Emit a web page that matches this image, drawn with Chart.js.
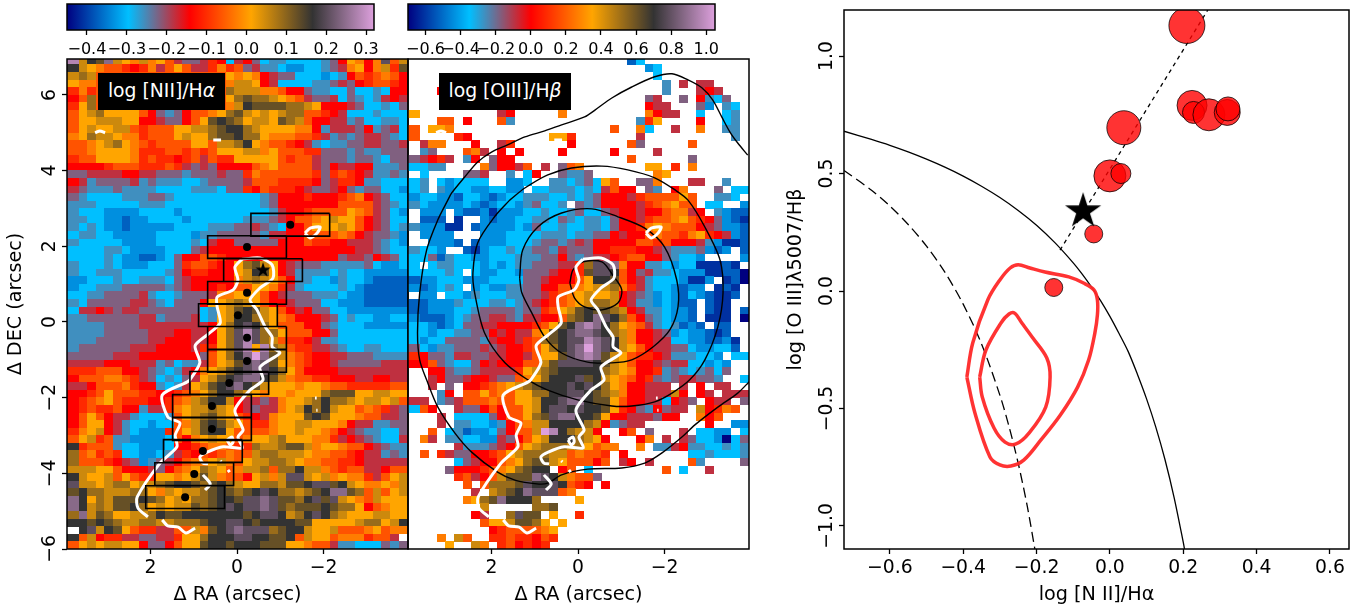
<!DOCTYPE html>
<html><head><meta charset="utf-8">
<script src="https://cdn.jsdelivr.net/npm/chart.js@4"></script>
<style>
html,body{margin:0;padding:0;background:#fff;width:1359px;height:607px;overflow:hidden;font-family:"DejaVu Sans"}
canvas{position:absolute}
.lab{position:absolute;background:#000;color:#fff;font:18.8px "DejaVu Sans";height:37px;line-height:35px;top:73px;white-space:nowrap;text-align:center}
</style></head><body>
<canvas id="cb1"></canvas><canvas id="cb2"></canvas>
<canvas id="p1"></canvas><canvas id="p2"></canvas><canvas id="p3"></canvas>
<div class="lab" style="left:98px;width:127px">log [NII]/H<i>α</i></div>
<div class="lab" style="left:439px;width:132px">log [OIII]/H<i>β</i></div>
<script>
// ---- heat-map cells: one letter per cell, a=lowest ... u=highest position on the colour bar, '.'=no data
const niiRows = [
"tnqpsnmlnlmkhgghjiehigeffeeeefgimlilrkn",
"qnmlkkjijlhkmkhhjljkghffeddeefghlmilnjp",
"nonkkkkkkkkkkkkkkkmlmlihggeeedefikjklki",
"mllkkkkkkkkkkkkkkklnnmiheeeeffghgijkkji",
"jljkkkkkkkkkkkkkkkonnnllkiigffeegeefeii",
"ikokkkkkkkkkkkkkkkmopoonmlkhgghegfefhih",
"jmokkkkkkkkkkkkkkklnqppppoonmiiihgeefeg",
"kmnommmmkigfgikklmopnmnmnookkjiheeefeee",
"kmmnnnmmiihggikmpqpomnnmponkiihhfgeeffe",
"kmnmmnnkjkkkmmnnopqqonmmmmllifhhhgifghe",
"lmonnmlljkkkmnmmoppqoomlllkkjhfgfghhgfe",
"kklmnomlkjkkkkmmknnoqmlkkjihfeffgghhggh",
"kklmmmmljjjkkjkjkmmmnnlmkkkjjgggfgffggg",
"jkkmmmmljkjjijkhkjjmmmmmkjkkhgggfggfegg",
"iiiijkkkjjjkjhghgiiiiklmkkkkhgihhiifffg",
"gghhhhiihhgggfggghggjlkkkkkkjgjkjihffgf",
"ihfgggghfgfffeefgggghkkkjjjjighjjiffeee",
"hgfffgffffeeeefffeggjikjjjihgghigfggeed",
"gfeeeefffggfeeeeeeeeeefgiiijiiijklihgee",
"fffeeeeefffeeeeeeeeeeefgiiiiiiikkkkhgfe",
"feeeddddeeeedeeeeeeeeeefhiijkkkkmlkhged",
"ffeeddcddeeeedeeeeeefffghikklmnmmkihgee",
"fefeddcdddddeeeefffgghgfeiikmmmnmkihgef",
"effeedddddeeeedffgggggfhhiikkkklkihggfd",
"feeeeeddddeeeefehiigggggiiikjjiihhhgfed",
"eeeeffeddddeeeghiiiiiiiiiiiiiiiiihhgfee",
"eeeefeddccdegiikkjiiiiiiiiiiiiighhgihgedd",
"feeefedddeeegjkkjiimopnmihgggfffffgedde",
"feefffeeeeefgijjiiimnqpmihffffefeeddddd",
"ddeeefeefffeghiiiiilnonmkiffeedfeedcccc",
"deefffgggggfghiiijikkmmljhfeeeefedccccc",
"eeffgggghfeefggghllmmmkihgggfffeddccccc",
"feggggghhgfegggimmnonmkiihgggeedddcccc",
"ehhihghhgggggggefmnpqpnmkihiggeeddddddd",
"ffgggggghhfggghefmnqqonmlkiiihgefeeddee",
"ffffgggghhhhhhhhimoqrqomkkkiigfeeeddddd",
"ffffggggghhhiihhimortroomkkkiigeeeeeeee",
"fffgggggghhiiihhimortronkjjihffeeeeeeee",
"fgggggghhhiiiihjjmortmtonkjjhhgfeeffeee",
"ggggghhhiiiiiiigkmoqsuspnlkjiihhgggffff",
"hhhhiiihhhfgeffhkmnprsrpmlkjiihggggghhh",
"jjjkkkiihgfefhilmnpqrsrqomkiiiihhhhhhhh",
"ikkkllkjhgefeghmnpqrssqpnlkkjjiiihhiihh",
"hhikkkljiifefhmnpqrsqpnmmmlmmlkkjjjjjkk",
"iijkmkkkjjiijklmoqqonmlmmlmmmopppmmnnm",
"ijklmkjjjiijklnoqqnihhghlmmnoqoonmnnmnk",
"ijkjjkiifhhjlmnnonmihghhlmnqoqnmmklkjhg",
"ikmkihhfeeefkmnopnmkjihlmmmpqpmmmlkkhhg",
"ikmmihfeedeeklnpqpnmkjjlmmnnmmmlihhffgg",
"jlmnihfedddjkmnpqqmkkkklmmnmmlkihgffeeg",
"kmnjkffddddekilmnmmklmmnommmlljhihgfeeh",
"qjkkkfeedddeiijkllkjjonnoppnlmmlkkihgff",
"okljkjeeddefhjikjklkknoonnnmllkkjihhfgf",
"okkkjihgdfghikllmnlkmnnoonmllkkjjihhhhh",
"nnnmmkiiihgiklmonmklnnokooqnnlkjkkhhikk",
"qnmmnkmkjjmmlmnpnlkkimnlnrrnmnlmlljhkmn",
"rnnmnoomnnopqqpopqonmmoonppqrrpqnmllmln",
"pqoonnnoomlnmnnopqpopqrqoonopqsspoknkmn",
"sqmonpppqpomnmoopqqprrsrppoqrprnmlknmmm",
"sqnonppqomnmnnpopqrqrrsrpopppqpoomiklmm",
"osnpommnnoqppqqqqqqqpqrrqnoqrqonmmmnnmm",
"qqpqponnoonnooopqqrrqpqqqqppmmmmmnoomnq",
".qrnqpmkjjhhkknlpqrsrrropqqnmmnkkklmkll",
"qknijjhhgghhjmmoqqqrrqqppqknmmkllljkkh.",
"kmnmnnmmiggikmmpqqpqqqpppmmlkkhffeeegfg",
"mnnlkjjlmmnmmlkqqoonoomnnlkkihgfeeffgkr"
];
const oiiiRows = [
".........................ce............",
"...........................de..........",
"............................e..........",
".............................f.h.hh....",
"...i.........................f...hih...",
"...........................gh..g.ifeg..",
"...........................ihh...gd.fe.",
"m.........hi.....l.........lihh..e..ef.",
"...kk.i...kf..............fjm....i..ef.",
"k.mml..................k..le..h..l..ff.",
"k....ji.........mmj.......h..........f.",
".hll...i..hj......i......kg.....k......",
".fg...klh.i.i....i.....i....h..........",
"ghijh.fi.gii.............k......g......",
"eeff....lgiihk.h.gkl.......mm.j.l......",
".e....ggh..f.ei..gffg.......lm.........",
"ef.edeeee..dde..ffefgemk..ggl...hh..f..",
"ef.fdeeddeedd.eefffefehkii.gf.il...g.ee",
"deeddceedcdeefffeefefgiiihjkkkkmk..ffe.",
"feddddedcdeedfgeef.gfgiiiihjklmkk.ee..d",
".ddd.dccdbdddeefeefgeeghiihiikllhi.fdcc",
".ccc.b..dcddeeffegfeffegiihjkklmkjigdcb",
"fdddbb.cddddedgeefeeffegiijlmlkkkihgddc",
".dddd...dddeeeefffeffggihiiklkkjlmjihdc",
"..dddc.cdddeeefggfghgiiiiikkjkiiihfdbbc",
"feed..cbdeefefggfhgggiijjjiihgfffgdcd.c",
"eegcfeeddeeefffggigfghhijkkiigfeed....d",
"e.effeeededeffggghhjorrsliiffedeebbbcb.",
"eeeefe.eddeedggghiijprrqkighffedddbbcca",
"cddeeedddeeeegghiiikmqqpkihfeeedbbd.bca",
"dcdefe.deddffggiikklmnnoljhfeedcdd.bcb.",
".dd.eedfeeeffgghjklmnmmnihgfdedcedcbbc.",
"ccdddfeeeffefghijklmnoonihffdedcc.cbb..",
"ccdddeefggggfggjkmnpqpponihffeddc.cbb.c",
"dcccdefgghhgfhhiikopqsrqokigfeddc.bbb.a",
"eedcdegghhiiiijkmpqstsqomlkhfefcdc.cc..",
"eedeeffggihihhlmpqrssrqonliihgdeddcbc..",
"edeeggggfhiihjkopqrrtsrqnliihheeddccdb.",
"gedffggghghiijkmoqrsusrqnmkihhggeddeec.",
"jiggfhhgghhiihkmmprstspnmkjjihfffeed.ee",
"iikgfeegihiiikknprrrrqpnmkiihghheeded..",
"..iigffghhhhjmnopqqqqqonmliijfgfefgeg..",
"..higghiihggklmoqqqrpqnmlkijgfghhggf..e",
"..h.g.iijklmnopqqqrqrqomliihhh.h.i.hh..",
"...fi.kkmklkmmooqqrrqponliihhhni.ih.hhh",
"hh.fghkkklkkmmnqqrssqppmkiihheihg.ihh.g",
"eki..hggikikkmnqrrqrqqpmjigfighh.nijlk.",
"...h.eeeegikkmoprssqqpmiihhhgii..lik...",
"...h.ffeedfiklnnqqqqonifghh.......i..dd",
"..k.efcddegikknutqonni..ik.g...h.eedd.e",
".lh.ffeeddhgikmnqqqonmi...il.h.hgeedaeg",
".....hfffghikmnooonomkll..l.ffhiffeefef",
".k.jhggiijkmnooonnklkkj.i.......eefeeef",
".....eghiiklmoppnmkkkik.hi.h....kf....g",
"....giiijklmopqq.ik.e........k.e..h....",
".....jkhiknpppsrqnlkkg.................",
"......k.koooprqqrqkji.i................",
".......h.nopqsrrrkl....................",
"......lmopsqqqo....m...................",
"........n.....oop......................",
".......ih..orpp.m..j...................",
"........kmmnppom.m.....................",
".........ijkkkklm......................",
"...l.nk..jjkjjikj......................",
"....m..nl.jkijij.......................",
"...........km...m..i.....n.....ff......"
];
// ---- overlays on the maps (arcsec)
const whiteRight = [[-.11,1.66],[-.53,1.69],[-.81,1.51],[-.83,1.16],[-.53,.90],[-.30,.58],[-.46,.32],[-.65,-.13],[-.81,-.40],[-.81,-.66],[-.99,-.82],[-.53,-1.19],[-.60,-1.53],[-.30,-1.80],[.05,-2.33],[-.14,-2.85],[-.02,-3.04],[-.12,-3.33],[.32,-3.30],[.69,-3.44],[.86,-3.57],[.79,-3.73],[.67,-3.75]];
const whiteLeft = [[-.11,1.66],[.05,1.45],[-.02,1.11],[.09,.85],[.46,.66],[.46,.40],[.39,-.03],[.69,-.34],[.97,-.63],[.86,-1.08],[1.09,-1.53],[1.16,-1.59],[1.73,-1.93],[1.60,-2.51],[1.32,-2.67],[1.43,-2.99],[1.39,-3.30],[1.78,-3.73],[2.31,-4.63],[2.29,-4.92],[2.06,-5.15]];
const whiteTail = [[1.73,-5.23],[1.60,-5.39],[1.36,-5.42],[1.18,-5.58],[.97,-5.45]];
const whitePiece = [[.79,-4.04],[.62,-4.28],[.74,-4.44]];
const whiteBlobA = [[-1.57,2.35],[-1.69,2.48],[-1.92,2.51],[-1.85,2.35],[-1.69,2.22],[-1.57,2.35]];
const whiteBlobB = [[.23,-3.12],[.12,-3.04],[.09,-3.17],[.16,-3.25],[.23,-3.12]];
const whiteArc1 = [[3.28,5.0],[3.17,5.05],[3.05,5.0]];
const whiteArc2 = [[.55,4.81],[.37,4.81]];
const whiteDot1 = [[.39,-3.67],[.36,-3.70]];
const whiteDot2 = [[.21,-3.91],[.17,-3.97]];
const whiteDot3 = [[-1.80,-2.01],[-1.84,-2.01]];
const whiteDot4 = [[-1.83,-2.33],[-1.86,-2.33]];
const contourA = [[-3.92,4.41],[-3.69,4.73],[-3.51,5.02],[-3.32,5.42],[-3.11,5.87],[-2.86,6.19],[-2.54,6.40],[-2.17,6.56],[-1.77,6.48],[-1.24,6.21],[-.78,5.92],[-.39,5.60],[-.15,5.42],[.38,5.21],[.77,5.05],[1.23,4.89],[1.63,4.68],[2.00,4.49],[2.32,4.23],[2.62,3.83],[2.92,3.41],[3.01,3.22],[3.24,2.70],[3.50,1.90],[3.66,.77],[3.71,-.29],[3.66,-1.00],[3.50,-1.53],[3.24,-2.25],[2.85,-2.93],[2.46,-3.44],[1.86,-3.97],[1.46,-4.18],[.95,-4.28],[.70,-4.26],[.38,-4.04],[-.22,-3.89],[-1.01,-3.86],[-1.54,-3.73],[-1.94,-3.46],[-2.40,-3.04],[-2.70,-2.72],[-3.23,-2.25],[-3.69,-1.88],[-3.97,-1.56]];
const contourB = [[1.58,3.22],[1.23,3.54],[.70,3.89],[.15,4.07],[-.55,4.12],[-1.15,4.02],[-1.77,3.81],[-2.24,3.49],[-2.54,3.22],[-2.93,2.51],[-3.28,1.64],[-3.35,.77],[-3.23,-.13],[-2.93,-1.00],[-2.58,-1.53],[-2.17,-1.88],[-1.77,-2.11],[-1.24,-2.22],[-.78,-2.22],[.01,-2.06],[.70,-1.80],[1.16,-1.53],[1.69,-1.08],[2.16,-.29],[2.39,.77],[2.43,1.30],[2.32,2.09],[1.93,2.78],[1.58,3.22]];
const contourC = [[1.35,1.16],[1.28,1.90],[.93,2.51],[.38,2.88],[-.32,2.99],[-.92,2.78],[-1.54,2.48],[-2.00,1.98],[-2.28,1.11],[-2.31,.40],[-2.12,-.21],[-1.73,-.66],[-1.24,-1.00],[-.78,-1.08],[-.22,-1.06],[.38,-.82],[.77,-.40],[1.07,.24],[1.30,.77],[1.35,1.16]];
const contourD = [[.19,1.03],[.12,1.37],[-.11,1.59],[-.55,1.59],[-.80,1.24],[-1.01,.85],[-.92,.50],[-.55,.32],[-.15,.40],[.08,.63],[.19,1.03]];
const slitX = [-1.23,-.23,-.60,-.23,-.02,-.23,-.23,.18,.58,.58,.79,.99,1.20];
const slitY = [2.57,1.98,1.37,.77,.18,-.42,-1.03,-1.61,-2.22,-2.83,-3.41,-4.02,-4.63];
const slitStarIndex = 2;
// ---- BPT panel
const bptX = [.21,.224,.228,.27,.32,.322,.038,0,.03,-.044,-.153];
const bptY = [1.13,.79,.76,.75,.76,.775,.695,.49,.5,.243,.015];
const bptR = [18,15,11,16,13,12,17,16,10,9,9];
const bptStar = [-.073,.34];
const kewleyX = [-.725,-.65,-.6,-.55,-.5,-.45,-.4,-.35,-.3,-.25,-.2,-.15,-.1,-.075,-.05,-.025,0,.025,.05,.075,.1,.125,.15,.175,.2,.205];
const kewleyY = [.68,.645,.62,.592,.561,.527,.489,.446,.398,.343,.28,.206,.12,.071,.017,-.042,-.108,-.181,-.258,-.354,-.459,-.578,-.716,-.878,-1.069,-1.112];
const kauffX = [-.725,-.65,-.6,-.55,-.5,-.45,-.4,-.35,-.3,-.275,-.25,-.225,-.2];
const kauffY = [.513,.429,.362,.283,.191,.08,-.056,-.225,-.443,-.577,-.733,-.918,-1.14];
const dottedX = [-.136,.267];
const dottedY = [.174,1.196];
const redOuter = [[-.390,-.366],[-.374,-.221],[-.333,-.038],[-.300,.047],[-.272,.098],[-.25,.112],[-.218,.098],[-.177,.081],[-.112,.060],[-.072,.034],[-.043,.004],[-.034,-.038],[-.034,-.102],[-.041,-.179],[-.058,-.294],[-.088,-.409],[-.135,-.528],[-.188,-.634],[-.235,-.72],[-.27,-.745],[-.3,-.74],[-.327,-.706],[-.368,-.519],[-.390,-.366]];
const redInner = [[-.355,-.366],[-.338,-.251],[-.297,-.136],[-.275,-.098],[-.26,-.094],[-.24,-.136],[-.21,-.200],[-.172,-.285],[-.163,-.366],[-.175,-.494],[-.22,-.604],[-.256,-.651],[-.286,-.643],[-.316,-.583],[-.348,-.451],[-.355,-.366]];
// ---- tick labels
const mapXTicks = [2,0,-2];
const mapYTicks = [-6,-4,-2,0,2,4,6];
const bptXTicks = [-.6,-.4,-.2,0,.2,.4,.6];
const bptYTicks = [-1,-.5,0,.5,1];
const cb1Ticks = [-.4,-.3,-.2,-.1,0,.1,.2,.3];
const cb2Ticks = [-.6,-.4,-.2,0,.2,.4,.6,.8,1];
const cb1Range = [-.45,.32];
const cb2Range = [-.70,1.05];

// ---- helpers
const STOPS=[[0,0,128],[0,191,255],[255,0,0],[255,165,0],[51,51,51],[221,160,221]];
function cmap(t){const s=Math.min(4.9999,Math.max(0,t*5));const i=Math.floor(s),f=s-i;const a=STOPS[i],b=STOPS[i+1];
 return `rgb(${a.map((v,k)=>Math.round(v+(b[k]-v)*f)).join(',')})`;}
const cellImg={};
function cellFor(v){if(!cellImg[v]){const c=document.createElement('canvas');c.width=9;c.height=8;const g=c.getContext('2d');g.fillStyle=cmap(v);g.fillRect(0,0,9,8);cellImg[v]=c;}return cellImg[v];}
const COL0=3.76,ROW0=6.9,STEP=.2;
function cells(rows,pad){const out=[];rows.forEach((row0,r)=>{const row=pad?row0.padEnd(39,row0[row0.length-1]):row0;for(let i=0;i<39;i++){const ch=row[i];if(!ch||ch==='.')continue;const v=(ch.charCodeAt(0)-97)/20;
 out.push({x:COL0-STEP*i,y:ROW0-STEP*r,v});if(i===0)out.push({x:COL0+STEP,y:ROW0-STEP*r,v});}});return out;}
const pts=a=>a.map(p=>({x:p[0],y:p[1]}));
const zip=(x,y)=>x.map((v,i)=>({x:v,y:y[i]}));
function line(a,color,width,extra){return Object.assign({type:'scatter',data:a,showLine:true,pointRadius:0,borderColor:color,borderWidth:width,fill:false,tension:0},extra||{});}
function starImg(R){const c=document.createElement('canvas');c.width=c.height=2*R+2;const g=c.getContext('2d');g.fillStyle='#000';g.beginPath();
 for(let k=0;k<10;k++){const r=k%2?R*.382:R,a=-Math.PI/2+k*Math.PI/5;g[k?'lineTo':'moveTo'](R+1+r*Math.cos(a),R+1+r*Math.sin(a));}g.closePath();g.fill();return c;}
const fmt=(d)=>v=>{const s=Math.abs(v).toFixed(d);return (v<-1e-9?'\u2212':'')+s;};
const frame={id:'frame',afterDatasetsDraw(ch){const a=ch.chartArea,g=ch.ctx;g.save();g.strokeStyle='#000';g.lineWidth=1.5;g.strokeRect(a.left,a.top,a.right-a.left,a.bottom-a.top);g.restore();}};
const F='"DejaVu Sans"';
const noPad=s=>{s.paddingTop=s.paddingBottom=s.paddingLeft=s.paddingRight=0;};
function place(id,px,m){const c=document.getElementById(id);const W=px.w+m.l+m.r,H=px.h+m.t+m.b;c.width=W;c.height=H;c.style.left=(px.x-m.l)+'px';c.style.top=(px.y-m.t)+'px';c.style.width=W+'px';c.style.height=H+'px';return c;}
function xScale(o,m,ticks,d,size,pad){return Object.assign({type:'linear',position:'bottom',afterFit:s=>{s.height=m.b;noPad(s);},afterBuildTicks:s=>{s.ticks=ticks.map(v=>({value:v}))},
 grid:{drawOnChartArea:false,drawTicks:true,tickLength:5,tickColor:'#000',tickWidth:1.3},border:{display:false},
 ticks:{autoSkip:false,maxRotation:0,minRotation:0,padding:pad||3,color:'#000',font:{family:F,size:size},callback:fmt(d),includeBounds:false}},o);}
function yScale(o,m,ticks,d,size){return Object.assign({type:'linear',position:'left',
 afterFit:s=>{s.width=m.l;noPad(s);if(!s._wrapped){s._wrapped=true;const orig=s._computeLabelItems;s._computeLabelItems=function(ca){const items=orig.call(this,ca);items.forEach(it=>{it.options.textAlign='center';it.options.textBaseline='bottom';it.options.translation=[m.l-7,it.options.translation[1]];it.textOffset=0;});return items;};}},
 afterBuildTicks:s=>{s.ticks=ticks.map(v=>({value:v}))},
 grid:{drawOnChartArea:false,drawTicks:true,tickLength:5,tickColor:'#000',tickWidth:1.3},border:{display:false},
 ticks:{autoSkip:false,minRotation:90,maxRotation:90,padding:3,color:'#000',font:{family:F,size:size},callback:fmt(d),includeBounds:false}},o);}
const base=(m,leftPad)=>({responsive:false,animation:false,events:[],layout:{autoPadding:false,padding:{top:m.t,right:m.r,left:leftPad,bottom:0}},plugins:{legend:{display:false},tooltip:{enabled:false}}});
const AX=19.2,TK=18.8;

function mapChart(id,px,m,rows,withY,extra){
 const o=base(m,withY?0:m.l);
 o.scales={x:xScale({min:-3.95,max:3.93,reverse:true,title:{display:true,text:'\u0394 RA (arcsec)',color:'#000',font:{family:F,size:AX},padding:{top:0,bottom:0}}},m,mapXTicks,0,TK),
  y:withY?yScale({min:-6,max:6.95,title:{display:true,text:'\u0394 DEC (arcsec)',color:'#000',font:{family:F,size:AX},padding:{top:4,bottom:0}}},m,mapYTicks,0,TK):{type:'linear',display:false,min:-6,max:6.95}};
 const white=(a)=>line(pts(a),'#fff',3,{tension:.25});
 // datasets listed top-most first
 const ds=[].concat(extra.top||[]).concat([white(whiteRight),white(whiteLeft),white(whiteTail),white(whitePiece),white(whiteBlobA),white(whiteBlobB),white(whiteArc1),white(whiteArc2),white(whiteDot1),white(whiteDot2),white(whiteDot3),white(whiteDot4)])
  .concat(extra.under||[])
  .concat([{type:'scatter',data:cells(rows,withY),pointStyle:c=>c.raw?cellFor(c.raw.v):false,pointRadius:5,borderWidth:0}]);
 return new Chart(place(id,px,m),{type:'scatter',data:{datasets:ds},options:o,plugins:[frame]});
}
const slitW=1.82,slitH=.6;
const slitBoxes=[];slitX.forEach((x,i)=>{const y=slitY[i];slitBoxes.push({x:x-slitW/2,y:y+slitH/2},{x:x+slitW/2,y:y+slitH/2},{x:x+slitW/2,y:y-slitH/2},{x:x-slitW/2,y:y-slitH/2},{x:x-slitW/2,y:y+slitH/2},{x:NaN,y:NaN});});
const m1={l:67,t:8,r:3,b:58};
mapChart('p1',{x:67,y:59,w:341,h:490},m1,niiRows,true,{top:[
 {type:'scatter',data:[{x:slitX[slitStarIndex],y:slitY[slitStarIndex]}],pointStyle:starImg(8),pointRadius:8},
 {type:'scatter',data:zip(slitX,slitY).filter((p,i)=>i!==slitStarIndex),pointRadius:4,pointBackgroundColor:'#000',pointBorderWidth:0},
 line(slitBoxes,'#000',1.6,{spanGaps:false})
]});
const m2={l:3,t:8,r:3,b:58};
const blk=a=>line(pts(a),'#000',1.4,{tension:.3});
mapChart('p2',{x:408,y:59,w:341,h:490},m2,oiiiRows,false,{under:[blk(contourA),blk(contourB),blk(contourC),blk(contourD)]});

// BPT
const m3={l:64,t:8,r:10,b:58};
const o3=base(m3,0);
o3.scales={x:xScale({min:-.725,max:.652,title:{display:true,text:'log [N II]/H\u03b1',color:'#000',font:{family:F,size:AX},padding:{top:0,bottom:0}}},m3,bptXTicks,1,TK),
 y:yScale({min:-1.098,max:1.196,title:{display:true,text:'log [O III]\u03bb5007/H\u03b2',color:'#000',font:{family:F,size:AX},padding:{top:4,bottom:0}}},m3,bptYTicks,1,TK)};
new Chart(place('p3',{x:844,y:10,w:505,h:539},m3),{type:'scatter',data:{datasets:[
 {type:'scatter',data:[{x:bptStar[0],y:bptStar[1]}],pointStyle:starImg(19),pointRadius:19},
 line(pts(redOuter),'rgba(255,40,40,.95)',3.5,{tension:.35}),
 line(pts(redInner),'rgba(255,40,40,.95)',3.5,{tension:.35}),
 {type:'bubble',data:bptX.map((x,i)=>({x,y:bptY[i],r:bptR[i]})),backgroundColor:'rgba(255,0,0,.8)',borderColor:'rgba(0,0,0,.75)',borderWidth:1},
 line(zip(dottedX,dottedY),'#000',1.3,{borderDash:[4,4]}),
 line(zip(kauffX,kauffY),'#000',1.3,{tension:.3,borderDash:[10,5]}),
 line(zip(kewleyX,kewleyY),'#000',1.3,{tension:.3})
]},options:o3,plugins:[frame]});

// colour bars
function colorBar(id,px,range,ticks){
 const m={l:7,t:4,r:10,b:30};
 const o=base(m,m.l);
 o.indexAxis='y';
 o.scales={x:xScale({min:range[0],max:range[1]},m,ticks,1,16,5),y:{type:'category',display:false}};
 return new Chart(place(id,px,m),{type:'bar',data:{labels:['scale'],datasets:[{data:[range],barPercentage:1,categoryPercentage:1,borderWidth:0,
  backgroundColor:c=>{const a=c.chart.chartArea;if(!a)return '#888';const g=c.chart.ctx.createLinearGradient(a.left,0,a.right,0);STOPS.forEach((s,i)=>g.addColorStop(i/5,`rgb(${s.join(',')})`));return g;}}]},options:o,plugins:[frame]});
}
colorBar('cb1',{x:67,y:4,w:307,h:26},cb1Range,cb1Ticks);
colorBar('cb2',{x:408,y:4,w:307,h:26},cb2Range,cb2Ticks);
</script>
</body></html>
